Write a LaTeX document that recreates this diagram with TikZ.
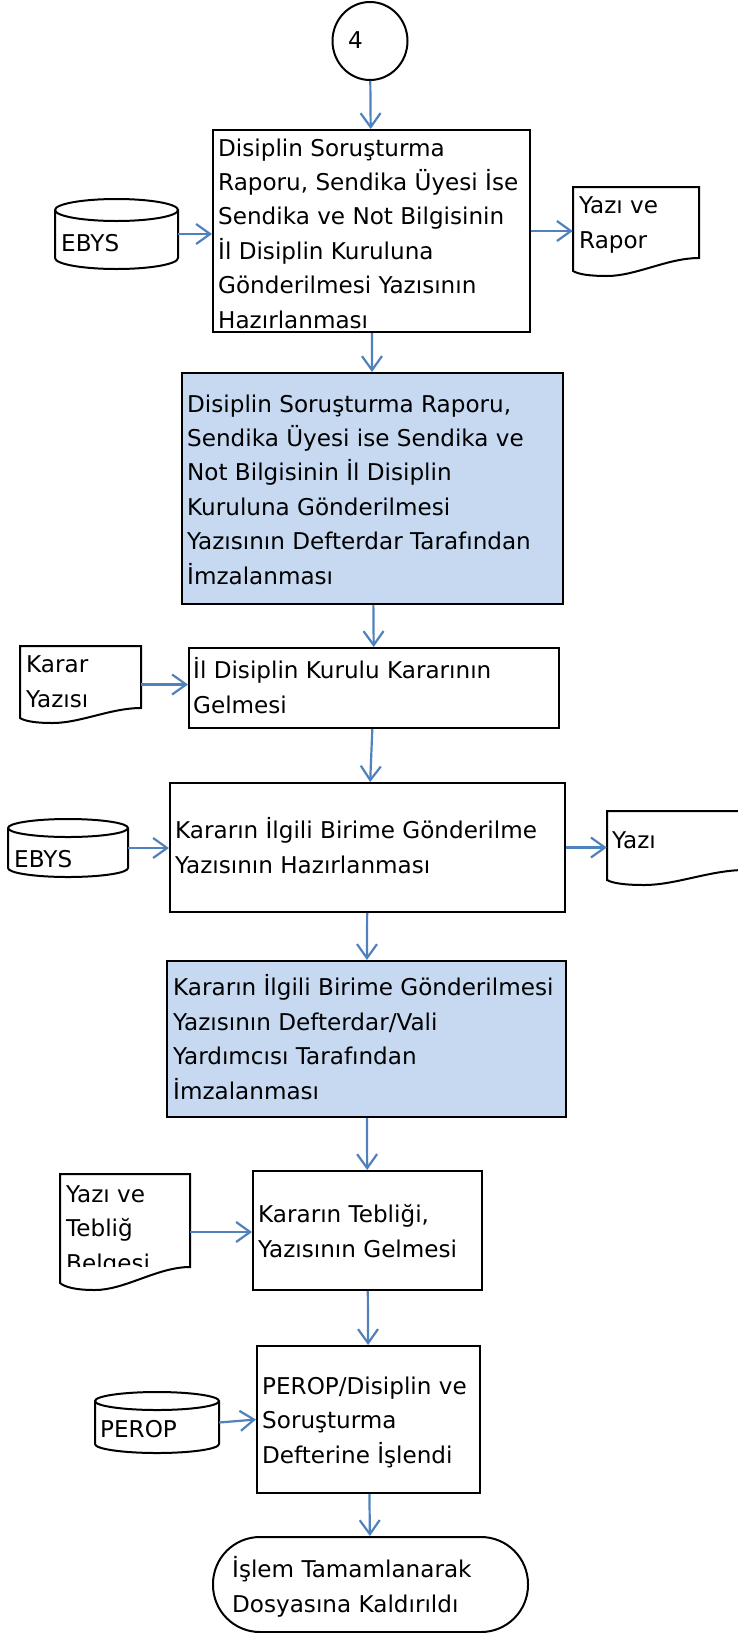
\documentclass[tikz,border=0pt]{standalone}
\usepackage{fontspec}
\setmainfont{DejaVu Sans}
\usetikzlibrary{arrows.meta,shapes.geometric,fit}
\definecolor{arrowblue}{RGB}{79,129,189}
\definecolor{boxblue}{RGB}{198,217,241}
% document shape: L T R Rb Lb Bm (pixel units, y downward)
\newcommand\drawdoc[6]{%
  \draw[shapeline] (#1,-#2) -- (#3,-#2) -- (#3,-#4)
    .. controls ({#3-0.25*(#3-#1)},-#4) and ({#1+0.5*(#3-#1)},-#6) .. ({#1+0.27*(#3-#1)},-#6)
    .. controls ({#1+0.12*(#3-#1)},-#6) and ({#1+0.04*(#3-#1)},{-(#5+0.6*(#6-#5))}) .. (#1,-#5) -- cycle;}
% cylinder: L T R B ry
\newcommand\drawcyl[5]{%
  \draw[shapeline] (#1,{-(#2+#5)}) -- (#1,{-(#4-#5)})
    arc[start angle=180,end angle=360,x radius={(#3-#1)/2},y radius=#5]
    -- (#3,{-(#2+#5)})
    arc[start angle=0,end angle=180,x radius={(#3-#1)/2},y radius=#5] -- cycle;
  \draw[shapeline] (#1,{-(#2+#5)}) arc[start angle=180,end angle=360,x radius={(#3-#1)/2},y radius=#5];}
\begin{document}
\begin{tikzpicture}[x=1pt,y=1pt,
  shapeline/.style={line width=2pt,draw=black},
  proc/.style={draw=black,line width=2pt,inner sep=0,rectangle},
  fillproc/.style={proc,fill=boxblue},
  term/.style={draw=black,line width=2pt,inner sep=0,rectangle,rounded corners=47pt},
  frame/.style={inner sep=0},
  txt/.style={font=\fontsize{23.1}{34.4}\selectfont,align=left,inner sep=0,anchor=base west},
  conn/.style={draw=arrowblue,line width=2.2pt,-{Straight Barb[length=14pt,width=20pt]}}]
\useasboundingbox (0,0) rectangle (738,-1633);
\clip (0,0) rectangle (738,-1633);

% start connector
\node[ellipse,draw=black,line width=2pt,minimum width=75pt,minimum height=78pt,inner sep=0] (c4) at (370,-41) {};
\node[txt] (t4) at (348,-48) {4};

% process boxes (text nodes anchored at the baseline of their last line)
\node[proc,minimum width=317pt,minimum height=202pt] (b1) at (371.5,-231) {};
\node[txt] (t1) at (218,-328) {Disiplin Soruşturma\\Raporu, Sendika Üyesi İse\\Sendika ve Not Bilgisinin\\İl Disiplin Kuruluna\\Gönderilmesi Yazısının\\Hazırlanması};

\node[fillproc,minimum width=381pt,minimum height=231pt] (b2) at (372.5,-488.5) {};
\node[txt] (t2) at (187,-584) {Disiplin Soruşturma Raporu,\\Sendika Üyesi ise Sendika ve\\Not Bilgisinin İl Disiplin\\Kuruluna Gönderilmesi\\Yazısının Defterdar Tarafından\\İmzalanması};

\node[proc,minimum width=370pt,minimum height=80pt] (b3) at (374,-688) {};
\node[txt] (t3) at (193,-713) {İl Disiplin Kurulu Kararının\\Gelmesi};

\node[proc,minimum width=395pt,minimum height=129pt] (b4) at (367.5,-847.5) {};
\node[txt] (t5) at (175,-873) {Kararın İlgili Birime Gönderilme\\Yazısının Hazırlanması};

\node[fillproc,minimum width=399pt,minimum height=156pt] (b5) at (366.5,-1039) {};
\node[txt] (t6) at (173,-1099) {Kararın İlgili Birime Gönderilmesi\\Yazısının Defterdar/Vali\\Yardımcısı Tarafından\\İmzalanması};

\node[proc,minimum width=229pt,minimum height=119pt] (b6) at (367.5,-1230.5) {};
\node[txt] (t7) at (258,-1257) {Kararın Tebliği,\\Yazısının Gelmesi};

\node[proc,minimum width=223pt,minimum height=147pt] (b7) at (368.5,-1419.5) {};
\node[txt] (t8) at (262,-1463) {PEROP/Disiplin ve\\Soruşturma\\Defterine İşlendi};

\node[term,minimum width=315pt,minimum height=95pt] (tm) at (370.5,-1584.5) {};
\node[txt] (t9) at (232,-1612) {İşlem Tamamlanarak\\Dosyasına Kaldırıldı};

% databases
\drawcyl{55}{199}{178}{269}{11}
\node[frame,fit={(55,-199) (178,-269)}] (ebys1) {};
\node[txt] (te1) at (61,-251) {EBYS};

\drawcyl{8}{819}{128}{877}{9}
\node[frame,fit={(8,-819) (128,-877)}] (ebys2) {};
\node[txt] (te2) at (14,-867) {EBYS};

\drawcyl{95}{1392}{219}{1453}{9}
\node[frame,fit={(95,-1392) (219,-1453)}] (perop) {};
\node[txt] (tp) at (100,-1437) {PEROP};

% documents
\drawdoc{573}{187}{699}{258}{271}{276}
\node[frame,fit={(573,-187) (699,-276)}] (doc1) {};
\node[txt] (td1) at (579,-248) {Yazı ve\\Rapor};

\drawdoc{20}{646}{141}{708}{718}{723}
\node[frame,fit={(20,-646) (141,-723)}] (doc2) {};
\node[txt] (td2) at (26,-707) {Karar\\Yazısı};

\drawdoc{607}{811}{745}{870}{880}{885}
\node[frame,fit={(607,-811) (745,-885)}] (doc3) {};
\node[txt] (td3) at (612,-848) {Yazı};

\drawdoc{60}{1174}{190}{1267}{1283}{1290}
\node[frame,fit={(60,-1174) (190,-1290)}] (doc4) {};
\begin{scope}
\clip (60,-1174) rectangle (190,-1266);
\node[txt] (td4) at (66,-1271) {Yazı ve\\Tebliğ\\Belgesi};
\end{scope}

% connectors
\draw[conn] (c4) -- (b1);
\draw[conn] (b1) -- (b2);
\draw[conn] (b2) -- (b3);
\draw[conn] (b3) -- (b4);
\draw[conn] (b4) -- (b5);
\draw[conn] (b5) -- (b6);
\draw[conn] (b6) -- (b7);
\draw[conn] (b7) -- (tm);
\draw[conn] (ebys1.east) -- (ebys1.east -| b1.west);
\draw[conn] (b1.east) -- (b1.east -| doc1.west);
\draw[conn] (doc2.east) -- (doc2.east -| b3.west);
\draw[conn] (ebys2.east) -- (ebys2.east -| b4.west);
\draw[conn] (b4.east) -- (b4.east -| doc3.west);
\draw[conn] (doc4.east) -- (doc4.east -| b6.west);
\draw[conn] (perop.east) -- (b7.west);
\end{tikzpicture}
\end{document}
